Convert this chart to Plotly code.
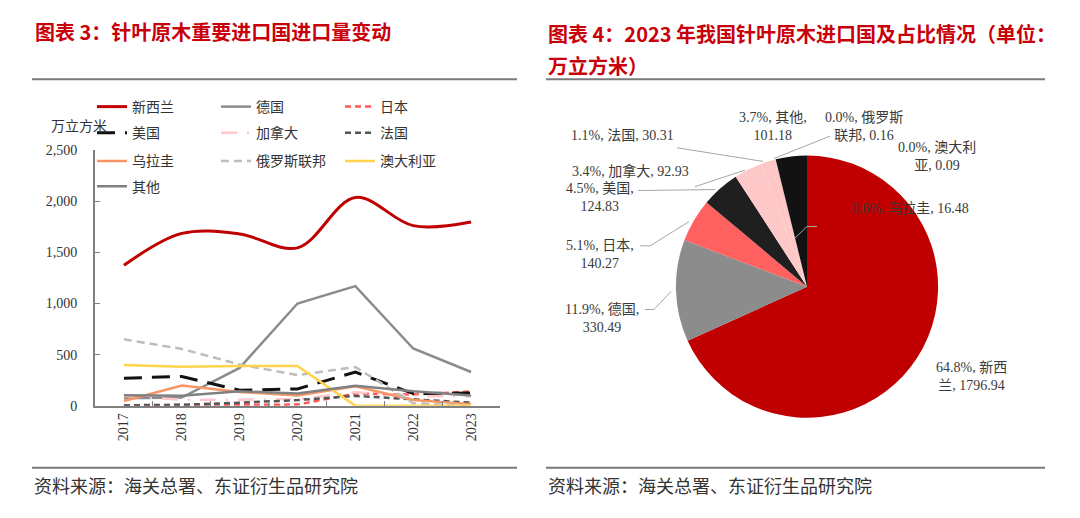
import plotly.graph_objects as go

# ---------------- data ----------------
years = ['2017', '2018', '2019', '2020', '2021', '2022', '2023']
new_zealand = [1373, 1685, 1680, 1544, 2036, 1761, 1796.94]
germany = [75, 80, 370, 1000, 1170, 560, 330.49]
japan = [5, 5, 8, 12, 120, 110, 140.27]
usa = [270, 287, 152, 165, 330, 120, 124.83]
canada = [95, 60, 60, 65, 132, 95, 92.93]
france = [5, 10, 30, 56, 97, 64, 30.31]
uruguay = [47, 199, 136, 102, 190, 57, 16.48]
russia = [650, 556, 404, 300, 379, 25, 0.16]
australia = [398, 382, 389, 389, 0, 0, 0.09]
others = [104, 98, 142, 120, 197, 142, 101.18]
y_ticks = [0, 500, 1000, 1500, 2000, 2500]

pie_names = ['新西兰', '德国', '日本', '美国', '加拿大', '法国', '乌拉圭', '俄罗斯联邦', '澳大利亚', '其他']
pie_values = [1796.94, 330.49, 140.27, 124.83, 92.93, 30.31, 16.48, 0.16, 0.09, 101.18]
pie_pct = ['64.8%', '11.9%', '5.1%', '4.5%', '3.4%', '1.1%', '0.6%', '0.0%', '0.0%', '3.7%']

W, H = 1080, 518
def px(x):
    return x / W
def py(y):
    return 1 - y / H

SERIF = "Liberation Serif, 'Noto Sans CJK SC', serif"
TXT = '#333333'

fig = go.Figure()

series = [
    ('新西兰', new_zealand, dict(color='#C00000', width=3, shape='spline', smoothing=1.0), 'legend'),
    ('德国', germany, dict(color='#8C8C8C', width=2.5), 'legend'),
    ('日本', japan, dict(color='#FF5757', width=2.5, dash='6px,4px'), 'legend'),
    ('美国', usa, dict(color='#111111', width=3, dash='18px,10px'), 'legend2'),
    ('加拿大', canada, dict(color='#FFC9CC', width=2.5, dash='16px,10px,2px,10px'), 'legend2'),
    ('法国', france, dict(color='#555555', width=2.5, dash='6px,4px'), 'legend2'),
    ('乌拉圭', uruguay, dict(color='#F79566', width=2.5), 'legend3'),
    ('俄罗斯联邦', russia, dict(color='#BDBDBD', width=2.5, dash='8px,5px'), 'legend3'),
    ('澳大利亚', australia, dict(color='#FFD34E', width=2.5), 'legend3'),
    ('其他', others, dict(color='#808080', width=2.5), 'legend4'),
]
for name, vals, line, lg in series:
    fig.add_trace(go.Scatter(x=years, y=vals, name=name, mode='lines', line=line,
                             legend=lg, xaxis='x', yaxis='y'))

# pie
pie_colors = ['#C00000', '#8C8C8C', '#FF6161', '#1F1F1F', '#FFC8C8', '#FFC6C6', '#FFC4C4',
              '#FFC4C4', '#FFC4C4', '#121212']
cx, cy, r = 807, 288, 135
fig.add_trace(go.Pie(labels=pie_names, values=pie_values, sort=False, direction='clockwise',
                     rotation=0, marker=dict(colors=pie_colors, line=dict(width=0)),
                     textinfo='none', showlegend=False, hoverinfo='label+value',
                     domain=dict(x=[px(cx - r), px(cx + r)], y=[py(cy + r), py(cy - r)])))

legend_common = dict(orientation='h', xanchor='left', yanchor='middle', entrywidth=79,
                     entrywidthmode='pixels', bgcolor='rgba(0,0,0,0)',
                     font=dict(family=SERIF, size=14, color=TXT), itemsizing='trace')
lx = px(92)
fig.update_layout(
    legend=dict(x=lx, y=py(103), **legend_common),
    legend2=dict(x=lx, y=py(130), **legend_common),
    legend3=dict(x=lx, y=py(159), **legend_common),
    legend4=dict(x=lx, y=py(185), **legend_common),
)

fig.update_layout(
    width=W, height=H, margin=dict(l=0, r=0, t=0, b=0),
    paper_bgcolor='white', plot_bgcolor='white',
    xaxis=dict(domain=[px(95), px(500)], type='category', range=[-0.5, 6.5],
               showgrid=False, zeroline=False, showline=True, linecolor='#808080', linewidth=1.5,
               ticks='inside', tickson='boundaries', ticklen=5, tickcolor='#808080',
               tickangle=-90, tickfont=dict(family=SERIF, size=14, color=TXT)),
    yaxis=dict(domain=[py(410.7), py(147.3)], range=[0, 2500], tickvals=y_ticks,
               tickformat=',d', showgrid=False, zeroline=False, showline=True,
               linecolor='#808080', linewidth=1.8, ticks='inside', ticklen=5,
               tickcolor='#808080', ticklabelstandoff=13,
               tickfont=dict(family=SERIF, size=14, color=TXT)),
    showlegend=True,
)

annotations = []
def note(text, x, y, font, xanchor='left', align='left'):
    annotations.append(dict(text=text, x=px(x), y=py(y), xref='paper', yref='paper',
                            xanchor=xanchor, yanchor='middle', align=align,
                            showarrow=False, font=font))

TITLE_FONT = dict(family="'Noto Sans CJK SC', sans-serif", size=20, color='#C8000A', weight='bold')
note('图表 3：针叶原木重要进口国进口量变动', 33, 25, TITLE_FONT)
note('图表 4：2023 年我国针叶原木进口国及占比情况（单位：', 546, 27, TITLE_FONT)
note('万立方米）', 546, 60, TITLE_FONT)
SRC_FONT = dict(family="'Noto Sans CJK SC', sans-serif", size=18, color='#333333')
for sx in (32, 546):
    note('资料来源：海关总署、东证衍生品研究院', sx, 492, SRC_FONT)
note('万立方米', 49, 123, dict(family=SERIF, size=14, color=TXT))

# pie labels: (index, chars in first line, center x, center y)
label_layout = [
    (9, 9, 773, 123),
    (7, 9, 864, 123),
    (8, 9, 937, 154),
    (6, None, 910, 207),
    (5, None, 622, 132),
    (4, None, 630, 169),
    (3, 9, 600, 196),
    (2, 9, 600, 255),
    (1, 10, 602, 321),
    (0, 9, 971, 381),
]
for i, brk, lxp, lyp in label_layout:
    full = f"{pie_pct[i]}, {pie_names[i]}, {pie_values[i]:.2f}"
    if brk is not None:
        full = full[:brk] + '<br>' + full[brk:].lstrip()
    note(full, lxp, lyp, dict(family=SERIF, size=14, color='#3A3A3A'),
         xanchor='center', align='center')
fig.update_layout(annotations=annotations)

shapes = []
for x0, x1, yy in ((32, 517, 74.5), (546, 1045, 74.5), (32, 517, 474.5), (546, 1045, 474.5)):
    shapes.append(dict(type='line', xref='paper', yref='paper', x0=px(x0), x1=px(x1),
                       y0=py(yy), y1=py(yy), line=dict(color='#7A7A7A', width=2)))
leaders = [
    [(830, 133), (774, 156)],
    [(677, 145), (763, 159)],
    [(695, 185), (745, 168)],
    [(638, 189), (715, 188)],
    [(640, 246), (650, 246), (689, 221)],
    [(645, 311.5), (654, 311.5), (671, 293)],
    [(817, 226), (807, 226), (795, 238)],
]
for pts in leaders:
    path = 'M ' + ' L '.join(f'{px(a):.5f},{py(b):.5f}' for a, b in pts)
    shapes.append(dict(type='path', xref='paper', yref='paper', path=path,
                       line=dict(color='#A6A6A6', width=1)))
fig.update_layout(shapes=shapes)

fig.write_html('out.html', config={'displayModeBar': False},
               post_script="document.body.style.margin='0';document.body.style.overflow='hidden';")
